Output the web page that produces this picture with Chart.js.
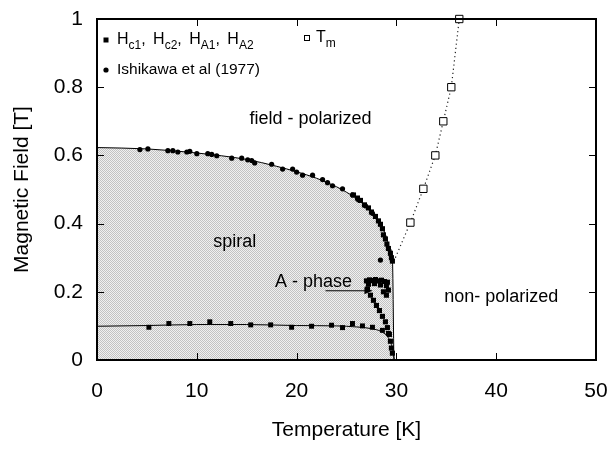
<!DOCTYPE html>
<html>
<head>
<meta charset="utf-8">
<script src="https://cdn.jsdelivr.net/npm/chart.js@4.4.0/dist/chart.umd.min.js"></script>
<style>
  html, body { margin: 0; padding: 0; background: #fff; }
</style>
</head>
<body>
<canvas id="chart" width="608" height="465"></canvas>
<script>
// boundary lines
const upperLineT = [0, 5, 10, 15, 18, 20, 22, 24, 25, 26, 27, 28, 28.5, 29, 29.3, 29.6, 29.75];
const upperLineH = [0.623, 0.619, 0.607, 0.588, 0.568, 0.552, 0.533, 0.508, 0.492, 0.474, 0.45, 0.418, 0.395, 0.36, 0.33, 0.295, 0];
const lowerLineT = [0, 5, 10, 15, 20, 24, 26, 27.5, 28.5, 29.2, 29.6, 29.8];
const lowerLineH = [0.099, 0.101, 0.104, 0.104, 0.101, 0.1, 0.097, 0.092, 0.083, 0.065, 0.035, 0];

// Ishikawa et al (1977)
const ishT = [4.3, 5.1, 7.1, 7.6, 8.1, 9.0, 9.3, 10.0, 11.1, 11.5, 12.0, 13.5, 14.5, 15.1, 15.5, 15.8, 17.5, 18.6, 19.6, 20.0, 20.6, 21.6, 22.6, 23.1, 23.6, 24.6, 25.6, 26.2, 26.9, 27.6, 28.4];
const ishH = [0.617, 0.619, 0.614, 0.614, 0.61, 0.61, 0.612, 0.605, 0.605, 0.603, 0.599, 0.592, 0.592, 0.587, 0.585, 0.578, 0.574, 0.56, 0.56, 0.551, 0.542, 0.542, 0.529, 0.52, 0.511, 0.502, 0.484, 0.47, 0.452, 0.43, 0.293];

// Hc1
const hc1T = [5.2, 7.2, 9.3, 11.3, 13.4, 15.4, 17.4, 19.5, 21.5, 23.5, 24.6, 25.6, 26.6, 27.6, 28.6, 29.2];
const hc1H = [0.096, 0.107, 0.107, 0.112, 0.107, 0.103, 0.103, 0.096, 0.099, 0.102, 0.095, 0.107, 0.1, 0.096, 0.087, 0.078];
// Hc2
const hc2T = [25.7, 26.1, 26.4, 26.8, 27.2, 27.5, 27.9, 28.2, 28.4, 28.6, 28.7, 28.9, 29.05, 29.2, 29.4, 29.5, 29.6];
const hc2H = [0.484, 0.475, 0.468, 0.455, 0.446, 0.434, 0.421, 0.408, 0.398, 0.385, 0.367, 0.355, 0.34, 0.327, 0.313, 0.3, 0.29];
// HA2 (upper edge of A-phase)
const ha2T = [27.0, 27.3, 27.6, 27.9, 28.2, 28.5, 28.8, 29.1, 27.2, 27.8, 28.4, 29.0, 28.7, 29.2];
const ha2H = [0.232, 0.235, 0.233, 0.236, 0.232, 0.234, 0.23, 0.228, 0.222, 0.224, 0.22, 0.218, 0.2, 0.205];
// HA1 (lower edge of A-phase)
const ha1T = [27.1, 27.4, 27.7, 28.0, 28.3, 28.6, 28.9, 29.0, 29.1, 29.3, 29.4, 29.5, 29.6];
const ha1H = [0.208, 0.19, 0.175, 0.16, 0.145, 0.128, 0.112, 0.19, 0.095, 0.075, 0.055, 0.035, 0.02];

// Tm
const tmT = [31.4, 32.7, 33.9, 34.7, 35.5, 36.3];
const tmH = [0.403, 0.502, 0.6, 0.7, 0.8, 1.0];
const tmLineT = [29.9, 31.4, 32.7, 33.9, 34.7, 35.5, 36.3];
const tmLineH = [0.3, 0.403, 0.502, 0.6, 0.7, 0.8, 1.0];

const xTicks = [0, 10, 20, 30, 40, 50];
const yTicks = [0, 0.2, 0.4, 0.6, 0.8, 1];

const pts = (xs, ys) => xs.map((x, i) => ({ x: x, y: ys[i] }));

// stipple for the spiral region
const pat = document.createElement('canvas');
pat.width = 2; pat.height = 2;
const pctx = pat.getContext('2d');
pctx.fillStyle = '#f0f0f0'; pctx.fillRect(0, 0, 2, 2);
pctx.fillStyle = '#c2c2c2'; pctx.fillRect(0, 0, 1, 1); pctx.fillRect(1, 1, 1, 1);
const stipple = document.getElementById('chart').getContext('2d').createPattern(pat, 'repeat');

const FONT = 'Liberation Sans, Arial, Helvetica, sans-serif';

const regionLabels = [
  { text: 'field - polarized', t: 21.4, h: 0.707 },
  { text: 'spiral', t: 13.8, h: 0.345 },
  { text: 'A - phase', t: 21.7, h: 0.228 },
  { text: 'non- polarized', t: 40.5, h: 0.185 }
];

function subText(ctx, parts, x, y) {
  parts.forEach(p => {
    ctx.font = (p[1] ? '12px ' : '16px ') + FONT;
    ctx.fillText(p[0], x, p[1] ? y + 6 : y);
    x += ctx.measureText(p[0]).width + (p[2] || 0);
  });
}

const decor = {
  id: 'decor',
  afterDraw(chart) {
    const ctx = chart.ctx;
    const a = chart.chartArea;
    const xs = chart.scales.x, ys = chart.scales.y;
    const w = a.right - a.left, h = a.bottom - a.top;
    ctx.save();
    ctx.setLineDash([]);
    ctx.fillStyle = '#000';
    ctx.strokeStyle = '#000';

    // frame
    ctx.fillRect(a.left - 1, a.top - 1, w + 2, 2);
    ctx.fillRect(a.left - 1, a.bottom - 1, w + 2, 2);
    ctx.fillRect(a.left - 1, a.top - 1, 2, h + 2);
    ctx.fillRect(a.right - 1, a.top - 1, 2, h + 2);

    // inward ticks
    xTicks.forEach(v => {
      const px = Math.round(xs.getPixelForValue(v));
      ctx.fillRect(px, a.bottom - 7, 1, 7);
      ctx.fillRect(px, a.top, 1, 7);
    });
    yTicks.forEach(v => {
      const py = Math.round(ys.getPixelForValue(v));
      ctx.fillRect(a.left, py, 7, 1);
      ctx.fillRect(a.right - 7, py, 7, 1);
    });

    // region labels
    ctx.font = '18px ' + FONT;
    ctx.textAlign = 'center';
    ctx.textBaseline = 'middle';
    regionLabels.forEach(l => {
      ctx.fillText(l.text, xs.getPixelForValue(l.t), ys.getPixelForValue(l.h));
    });

    // arrow to the A-phase
    const ay = ys.getPixelForValue(0.203);
    const ax0 = xs.getPixelForValue(22.9), ax1 = xs.getPixelForValue(27.6);
    ctx.lineWidth = 1;
    ctx.beginPath(); ctx.moveTo(ax0, ay); ctx.lineTo(ax1 - 4, ay); ctx.stroke();
    ctx.beginPath();
    ctx.moveTo(ax1, ay); ctx.lineTo(ax1 - 8, ay - 3.5); ctx.lineTo(ax1 - 8, ay + 3.5);
    ctx.closePath(); ctx.fill();

    // legend
    ctx.textAlign = 'left';
    ctx.textBaseline = 'middle';
    const lx = a.left + 9, ly1 = a.top + 21, ly2 = a.top + 51;
    ctx.fillRect(lx - 2.5, ly1 - 2.5, 5, 5);
    subText(ctx, [['H', 0], ['c1', 1], [', ', 0, 3], ['H', 0], ['c2', 1], [', ', 0, 3], ['H', 0], ['A1', 1], [', ', 0, 3], ['H', 0], ['A2', 1]], lx + 11, ly1);
    ctx.beginPath(); ctx.arc(lx, ly2, 2.6, 0, Math.PI * 2); ctx.fill();
    ctx.font = '15.5px ' + FONT;
    ctx.fillText('Ishikawa et al (1977)', lx + 11, ly2);
    const tx = a.left + 210, ty = a.top + 19;
    ctx.strokeRect(tx - 2.5, ty - 2.5, 5, 5);
    subText(ctx, [['T', 0], ['m', 1]], tx + 9, ty);

    ctx.restore();
  }
};

const sq = (data, r) => ({
  type: 'scatter', data: data, pointStyle: 'rect', pointRadius: r,
  backgroundColor: '#000', borderColor: '#000', borderWidth: 0, order: 1
});

const edge = { display: true, color: '#000', width: 2 };
const gap = len => ({ display: true, drawOnChartArea: false, drawTicks: true, tickLength: len, tickColor: 'rgba(0,0,0,0)', color: 'rgba(0,0,0,0)' });

new Chart(document.getElementById('chart'), {
  type: 'scatter',
  data: {
    datasets: [
      {
        type: 'line', data: pts(upperLineT, upperLineH), borderColor: '#000', borderWidth: 1,
        backgroundColor: stipple, fill: 'origin', pointRadius: 0, cubicInterpolationMode: 'monotone', order: 10
      },
      {
        type: 'line', data: pts(lowerLineT, lowerLineH), borderColor: '#000', borderWidth: 1,
        fill: false, pointRadius: 0, cubicInterpolationMode: 'monotone', order: 9
      },
      {
        type: 'line', data: pts(tmLineT, tmLineH), borderColor: '#222', borderWidth: 1.2,
        borderDash: [1.2, 3], fill: false, pointRadius: 0, order: 8
      },
      {
        type: 'scatter', data: pts(ishT, ishH), pointStyle: 'circle', pointRadius: 2.6,
        backgroundColor: '#000', borderWidth: 0, order: 2
      },
      sq(pts(hc1T, hc1H), 3.5),
      sq(pts(hc2T, hc2H), 3.6),
      sq(pts(ha2T, ha2H), 3.6),
      sq(pts(ha1T, ha1H), 3.6),
      {
        type: 'scatter', data: pts(tmT, tmH), pointStyle: 'rect', pointRadius: 5.2,
        backgroundColor: '#fff', borderColor: '#000', borderWidth: 1, order: 0, clip: 6
      }
    ]
  },
  options: {
    responsive: false,
    animation: false,
    layout: { padding: { top: 19, right: 12, left: 0, bottom: 0 } },
    plugins: { legend: { display: false }, tooltip: { enabled: false } },
    scales: {
      x: {
        type: 'linear', min: 0, max: 50,
        afterBuildTicks: s => { s.ticks = xTicks.map(v => ({ value: v })); },
        afterFit: s => { s.height = 105; },
        grid: gap(19),
        border: edge,
        ticks: { color: '#000', font: { family: FONT, size: 21 }, padding: 0 },
        title: { display: true, text: 'Temperature [K]', color: '#000', font: { family: FONT, size: 21 }, padding: { top: 0, bottom: 22 } }
      },
      y: {
        type: 'linear', min: 0, max: 1,
        afterBuildTicks: s => { s.ticks = yTicks.map(v => ({ value: v })); },
        afterFit: s => { s.width = 97; },
        grid: gap(14),
        border: edge,
        ticks: { color: '#000', font: { family: FONT, size: 21 }, padding: 0, callback: v => String(v) },
        title: { display: true, text: 'Magnetic Field [T]', color: '#000', font: { family: FONT, size: 21 }, padding: { top: 10, bottom: 0 } }
      }
    }
  },
  plugins: [decor]
});
</script>
</body>
</html>
